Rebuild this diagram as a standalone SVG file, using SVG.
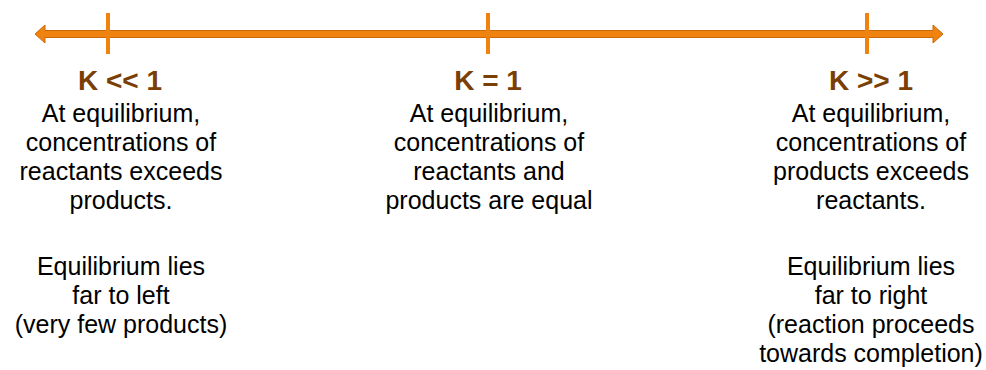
<svg xmlns="http://www.w3.org/2000/svg" width="986" height="370" viewBox="0 0 986 370">
<style>
.k{font-family:"Liberation Sans",Arial,sans-serif;font-weight:bold;font-size:28px;fill:#7a3f05;text-anchor:middle}
.t{font-family:"Liberation Sans",Arial,sans-serif;font-size:25px;fill:#000;text-anchor:middle}
.ax{fill:#f0820f;stroke:#c8690a;stroke-width:1}
.tick{stroke:#f0820f;stroke-width:4}
</style>
<g id="connectors">
<path class="ax" d="M35,34 L45,25 L45,30.5 L933,30.5 L933,25 L943,34 L933,43 L933,37.5 L45,37.5 L45,43 Z"/>
<line class="tick" x1="108" y1="13" x2="108" y2="54"/>
<line class="tick" x1="488" y1="13" x2="488" y2="54"/>
<line class="tick" x1="867" y1="13" x2="867" y2="54"/>
</g>
<g id="left">
<text class="k" x="120" y="90">K &lt;&lt; 1</text>
<text class="t" x="121" y="122">At equilibrium,</text>
<text class="t" x="121" y="151">concentrations of</text>
<text class="t" x="121" y="180">reactants exceeds</text>
<text class="t" x="121" y="209">products.</text>
<text class="t" x="121" y="275">Equilibrium lies</text>
<text class="t" x="121" y="304">far to left</text>
<text class="t" x="121" y="333">(very few products)</text>
</g>
<g id="middle">
<text class="k" x="488" y="90">K = 1</text>
<text class="t" x="489" y="122">At equilibrium,</text>
<text class="t" x="489" y="151">concentrations of</text>
<text class="t" x="489" y="180">reactants and</text>
<text class="t" x="489" y="209">products are equal</text>
</g>
<g id="right">
<text class="k" x="871" y="90">K &gt;&gt; 1</text>
<text class="t" x="871" y="122">At equilibrium,</text>
<text class="t" x="871" y="151">concentrations of</text>
<text class="t" x="871" y="180">products exceeds</text>
<text class="t" x="871" y="209">reactants.</text>
<text class="t" x="871" y="275">Equilibrium lies</text>
<text class="t" x="871" y="304">far to right</text>
<text class="t" x="871" y="333">(reaction proceeds</text>
<text class="t" x="871" y="362">towards completion)</text>
</g>
</svg>
